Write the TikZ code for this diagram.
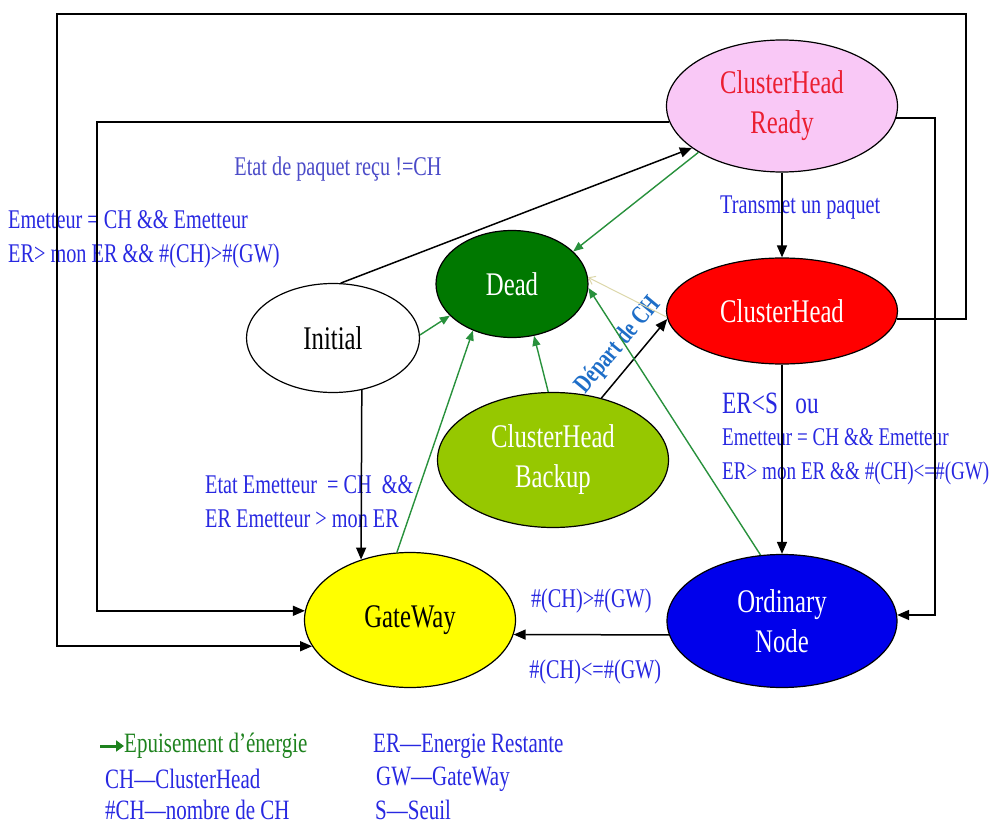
\documentclass[tikz,border=0pt]{standalone}
\usepackage{fontspec}
\setmainfont[FakeStretch=0.75]{Liberation Serif}
\usepackage{tikz}
\usetikzlibrary{shapes.geometric, arrows.meta}
\definecolor{readypink}{RGB}{249,200,246}
\definecolor{readyred}{RGB}{235,30,50}
\definecolor{deadgreen}{RGB}{0,120,0}
\definecolor{headred}{RGB}{255,0,0}
\definecolor{backupgreen}{RGB}{150,200,0}
\definecolor{gateyellow}{RGB}{255,255,0}
\definecolor{ordinaryblue}{RGB}{0,0,235}
\definecolor{energygreen}{RGB}{40,145,60}
\definecolor{condblue}{RGB}{40,40,225}
\definecolor{paqblue}{RGB}{75,75,200}
\definecolor{departblue}{RGB}{30,110,200}
\definecolor{palekhaki}{RGB}{220,215,170}
\definecolor{legendgreen}{RGB}{30,130,30}
\tikzset{
   stateellipse/.style={
     ellipse, draw=black, line width=1.2pt, inner sep=0pt, align=center,
     font=\fontsize{33}{40}\selectfont
   },
   readystate/.style={
      stateellipse, fill=readypink, text=readyred,
      minimum width=231pt, minimum height=132pt
   },
   headstate/.style={
      stateellipse, fill=headred, text=white,
      minimum width=231pt, minimum height=106pt
   },
   deadstate/.style={
      stateellipse, fill=deadgreen, text=white,
      minimum width=152pt, minimum height=107pt
   },
   initstate/.style={
      stateellipse, fill=white, text=black,
      minimum width=173pt, minimum height=109pt
   },
   backupstate/.style={
      stateellipse, fill=backupgreen, text=white,
      minimum width=231pt, minimum height=135pt
   },
   gatestate/.style={
      stateellipse, fill=gateyellow, text=black,
      minimum width=211pt, minimum height=135pt
   },
   ordinarystate/.style={
      stateellipse, fill=ordinaryblue, text=white,
      minimum width=230pt, minimum height=133pt
   },
   transline/.style={-{Triangle[length=12pt,width=10pt]}, line width=1.5pt, draw=black},
   energyline/.style={-{Triangle[length=10pt,width=8pt]}, line width=1.4pt, draw=energygreen},
   departline/.style={-{Straight Barb[length=6pt,width=9pt]}, line width=1pt, draw=palekhaki},
   condtext/.style={text=condblue, inner sep=0pt, align=left, font=\fontsize{27}{34}\selectfont},
   departtext/.style={text=departblue, inner sep=0pt, font=\bfseries\fontsize{26}{30}\selectfont},
   legendtext/.style={text=condblue, inner sep=0pt, anchor=west, font=\fontsize{28}{34}\selectfont}
}

\begin{document}
\begin{tikzpicture}[x=1pt, y=-1pt]
      \useasboundingbox (0,0) rectangle (997,827);

      % states
      \node[readystate](chready) at (782,106) {ClusterHead\\Ready};
      \node[headstate](ch) at (782,311) {ClusterHead};
      \node[deadstate](dead) at (512,284) {Dead};
      \node[initstate](initial) at (333,338) {Initial};
      \node[backupstate](backup) at (553,460) {ClusterHead\\Backup};
      \node[gatestate](gateway) at (410,620) {GateWay};
      \node[ordinarystate](ordinary) at (782,621) {Ordinary\\Node};

      % conditions
      \node[condtext, text=paqblue](paqlabel) at (338,169) {Etat de paquet reçu !=CH};
      \node[condtext, anchor=west](chgwlabel) at (8,239) {Emetteur = CH \&\& Emetteur\\ER> mon ER \&\& \#(CH)>\#(GW)};
      \node[condtext, anchor=west](translabel) at (720,208) {Transmet un paquet};
      \node[condtext, anchor=west, font=\fontsize{31}{37}\selectfont](erslabel) at (722,403) {ER<S\ \ \ ou};
      \node[condtext, anchor=west, font=\fontsize{25.5}{34}\selectfont](chordlabel) at (722,457) {Emetteur = CH \&\& Emetteur\\ER> mon ER \&\& \#(CH)<=\#(GW)};
      \node[condtext, anchor=west](initgwlabel) at (205,502) {Etat Emetteur\ \ = CH\ \ \&\&\\ER Emetteur > mon ER};

      % transitions
      \draw[transline] (initial.82) -- (chready.205);
      \draw[transline] (chready.south) -- (ch.north);
      \draw[transline] (ch.south) -- (ordinary.north);
      \draw[transline] (initial.299) -- (gateway.129);
      \draw[transline] (backup.52) -- node[departtext, midway, sloped, above=8pt]{Départ de CH} (ch.184);
      \draw[transline] (ordinary.187) -- node[condtext, midway, yshift=34pt]{\#(CH)>\#(GW)}
            node[condtext, midway, xshift=4pt, yshift=-37pt]{\#(CH)<=\#(GW)} (gateway.352);
      \draw[transline] (ch.356) -| (966,14) -| (57,14) |- (gateway.195);
      \draw[transline] (chready.354) -| (935,400) |- (ordinary.3);
      \draw[transline] (chready.188) -| (97,400) |- (gateway.175);

      % energy exhaustion
      \draw[energyline] (chready.209) -- (dead.28);
      \draw[energyline] (initial.2) -- (dead.207);
      \draw[energyline] (gateway.101) -- (dead.230);
      \draw[energyline] (backup.94) -- (dead.293);
      \draw[energyline] (ordinary.108) -- (dead.357);
      \draw[departline] (ch.183) -- (dead.5);

      % legend
      \node[legendtext, text=legendgreen](legenergy) at (124,746) {Epuisement d'énergie};
      \coordinate (legarrow) at (100,746);
      \draw[-{Triangle[length=8pt,width=11pt]}, line width=3pt, draw=legendgreen] (legarrow) -- (legenergy.west);
      \node[legendtext](legch) at (105,779) {CH—ClusterHead};
      \node[legendtext](legnb) at (105,810) {\#CH—nombre de CH};
      \node[legendtext](leger) at (373,746) {ER—Energie Restante};
      \node[legendtext](leggw) at (376,779) {GW—GateWay};
      \node[legendtext](legs) at (375,810) {S—Seuil};
   \end{tikzpicture}
\end{document}
